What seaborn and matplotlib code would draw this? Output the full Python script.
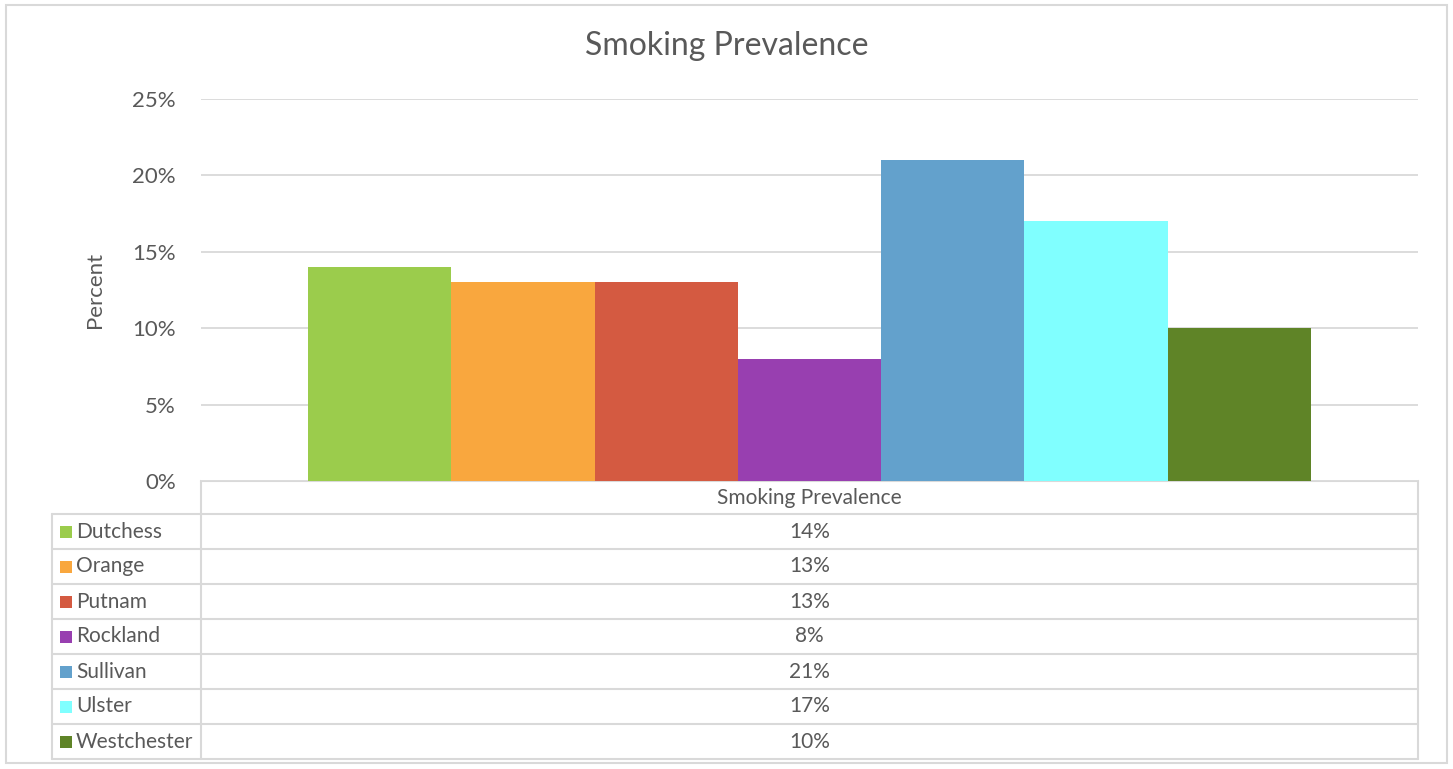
import numpy as np
import pandas as pd
import seaborn as sns
import matplotlib.pyplot as plt
from matplotlib.patches import Rectangle
from matplotlib.ticker import PercentFormatter

# data
counties = ["Dutchess", "Orange", "Putnam", "Rockland", "Sullivan", "Ulster", "Westchester"]
prevalence = [0.14, 0.13, 0.13, 0.08, 0.21, 0.17, 0.10]
colors = ["#9BCC4C", "#F9A73E", "#D45A41", "#983FB0", "#63A1CC", "#80FFFF", "#5F8427"]
category = "Smoking Prevalence"
yticks = [0, 0.05, 0.10, 0.15, 0.20, 0.25]

sns.set_theme(style="white")
plt.rcParams["font.family"] = ["Lato", "DejaVu Sans"]
text_color = "#595959"
line_color = "#D9D9D9"

W, H = 1453, 769
fig = plt.figure(figsize=(W / 100, H / 100), dpi=100)

# pixel-coordinate overlay for border and data table
frame = fig.add_axes([0, 0, 1, 1])
frame.set_xlim(0, W)
frame.set_ylim(H, 0)
frame.axis("off")
frame.add_patch(Rectangle((6, 5), 1441, 758, fill=False, edgecolor=line_color, lw=1.5))

# main plot area
left, right, top, zero = 201, 1418, 99, 481
ax = fig.add_axes([left / W, 1 - zero / H, (right - left) / W, (zero - top) / H])
df = pd.DataFrame({"category": [category] * len(counties), "county": counties, "value": prevalence})
sns.barplot(data=df, x="category", y="value", hue="county", hue_order=counties,
            palette=colors, width=0.824, saturation=1, legend=False, ax=ax, zorder=3)
for p in ax.patches:
    p.set_edgecolor("none")
ax.set_xlim(-0.5, 0.5)
ax.set_ylim(0, 0.25)
ax.set_yticks(yticks)
ax.yaxis.set_major_formatter(PercentFormatter(1, decimals=0))
ax.grid(axis="y", color=line_color, lw=1.3, zorder=0)
ax.set_axisbelow(True)
ax.tick_params(axis="y", labelsize=16, labelcolor=text_color, length=0, pad=18)
ax.set_xticks([])
ax.set_xlabel("")
ax.set_ylabel("Percent", fontsize=16, color=text_color, labelpad=20)
for s in ax.spines.values():
    s.set_visible(False)

fig.text(0.5, 1 - 46 / H, category, ha="center", va="center", fontsize=23, color=text_color)

# data table below the plot
row_h = 35
header_bottom = 514
n = len(counties)
table_bottom = header_bottom + n * row_h
lw = 1.5
frame.plot([left, right], [zero, zero], color=line_color, lw=lw)
frame.plot([left, left], [zero, table_bottom], color=line_color, lw=lw)
frame.plot([right, right], [zero, table_bottom], color=line_color, lw=lw)
frame.plot([52, 52], [header_bottom, table_bottom], color=line_color, lw=lw)
for i in range(n + 1):
    y = header_bottom + i * row_h
    frame.plot([52, right], [y, y], color=line_color, lw=lw)
mid = (left + right) / 2
frame.text(mid, (zero + header_bottom) / 2, category, ha="center", va="center",
           fontsize=15, color=text_color)
for i, (name, val, col) in enumerate(zip(counties, prevalence, colors)):
    yc = header_bottom + i * row_h + row_h / 2
    frame.add_patch(Rectangle((60, yc - 6), 12, 12, facecolor=col, edgecolor="none"))
    frame.text(76, yc, name, ha="left", va="center", fontsize=15, color=text_color)
    frame.text(mid, yc, f"{val * 100:.0f}%", ha="center", va="center", fontsize=15, color=text_color)

fig.savefig("out.png", dpi=100)
